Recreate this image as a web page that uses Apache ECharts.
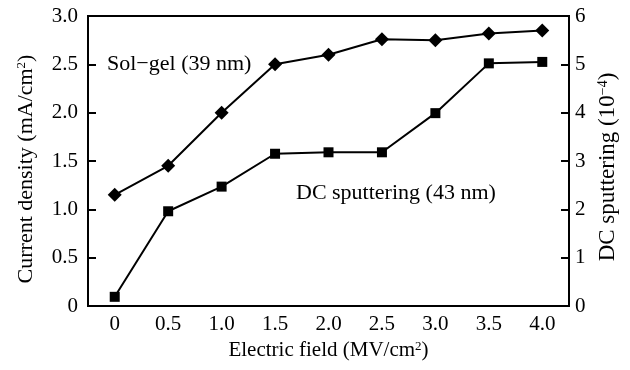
<!DOCTYPE html>
<html><head><meta charset="utf-8">
<script src="https://cdn.jsdelivr.net/npm/echarts@6/dist/echarts.min.js"></script>
<style>html,body{margin:0;padding:0;background:#fff}#c{width:630px;height:370px}</style>
</head><body><div id="c"></div>
<script>
const categories = ['0','0.5','1.0','1.5','2.0','2.5','3.0','3.5','4.0'];
const solGel = [1.15, 1.45, 2.0, 2.5, 2.6, 2.76, 2.75, 2.82, 2.85];
const dcSputtering = [0.19, 1.96, 2.47, 3.15, 3.18, 3.18, 3.99, 5.02, 5.05];
const leftTicks = ['0','0.5','1.0','1.5','2.0','2.5','3.0'];
const rightTicks = ['0','1','2','3','4','5','6'];

const FONT = 'Liberation Serif';
const chart = echarts.init(document.getElementById('c'));
function supRich(size) {
  return {
    n: {fontFamily: FONT, fontSize: size, color: '#000'},
    s: {fontFamily: FONT, fontSize: Math.round(size * 0.6), color: '#000', verticalAlign: 'top', padding: [0,0,Math.round(size*0.45),0]}
  };
}
chart.setOption({
  animation: false,
  grid: {left: 88, right: 61, top: 16, bottom: 64, show: true, borderColor: '#000', borderWidth: 2},
  xAxis: {
    type: 'category', data: categories, boundaryGap: true,
    name: '{n|Electric field (MV/cm}{s|2}{n|)}', nameLocation: 'middle', nameGap: 30,
    nameTextStyle: {rich: supRich(21)},
    axisLine: {lineStyle: {color: '#000', width: 2}},
    axisTick: {inside: true, length: 8, lineStyle: {color: '#000', width: 2}},
    axisLabel: {color: '#000', fontFamily: FONT, fontSize: 21, margin: 8},
    splitLine: {show: false}
  },
  yAxis: [{
    type: 'value', min: 0, max: 3, interval: 0.5,
    name: '{n|Current density (mA/cm}{s|2}{n|)}', nameLocation: 'middle', nameGap: 50, nameRotate: 90,
    nameTextStyle: {rich: supRich(22), padding: [0, 16, 0, 0]},
    axisLine: {show: true, lineStyle: {color: '#000', width: 2}},
    axisTick: {show: true, inside: true, length: 8, lineStyle: {color: '#000', width: 2}},
    axisLabel: {color: '#000', fontFamily: FONT, fontSize: 21, margin: 10,
      formatter: v => leftTicks[Math.round(v / 0.5)]},
    splitLine: {show: false}
  }, {
    type: 'value', min: 0, max: 6, interval: 1, position: 'right',
    name: '{n|DC sputtering (10}{s|−4}{n|)}', nameLocation: 'middle', nameGap: 27, nameRotate: 90,
    nameTextStyle: {rich: supRich(23), padding: [0, 12, 0, 0]},
    axisLine: {show: true, lineStyle: {color: '#000', width: 2}},
    axisTick: {show: true, inside: true, length: 8, lineStyle: {color: '#000', width: 2}},
    axisLabel: {color: '#000', fontFamily: FONT, fontSize: 21, margin: 6,
      formatter: v => rightTicks[Math.round(v)]},
    splitLine: {show: false}
  }],
  series: [{
    name: 'Sol-gel (39 nm)', type: 'line', yAxisIndex: 0, data: solGel,
    symbol: 'diamond', symbolSize: 14,
    lineStyle: {color: '#000', width: 2}, itemStyle: {color: '#000'}
  }, {
    name: 'DC sputtering (43 nm)', type: 'line', yAxisIndex: 1, data: dcSputtering,
    symbol: 'rect', symbolSize: 10,
    lineStyle: {color: '#000', width: 2}, itemStyle: {color: '#000'}
  }],
  graphic: [
    {type: 'text', left: 107, top: 53, style: {text: 'Sol−gel (39 nm)', font: '22px "Liberation Serif"', fill: '#000'}},
    {type: 'text', left: 296, top: 182, style: {text: 'DC sputtering (43 nm)', font: '22px "Liberation Serif"', fill: '#000'}}
  ]
});
</script></body></html>
